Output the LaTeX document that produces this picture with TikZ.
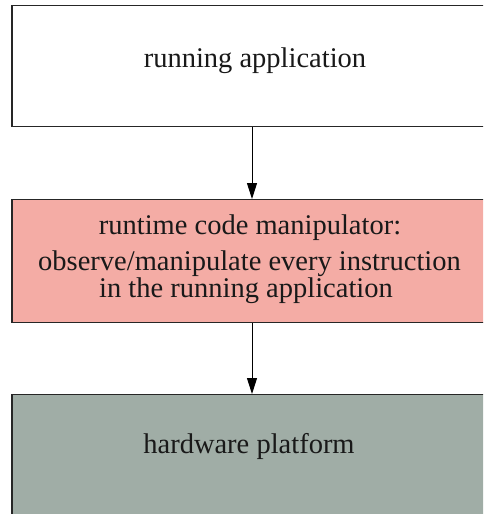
\documentclass[tikz,border=0pt]{standalone}
\usepackage{fontspec}
\setmainfont{Liberation Serif}
\usetikzlibrary{arrows.meta}
\definecolor{rcmpink}{RGB}{244,172,165}
\definecolor{hwgray}{RGB}{160,173,166}
\tikzset{
  layer/.style={draw=black!85, line width=1.4pt, minimum width=483pt, anchor=north},
  lbl/.style={anchor=base, inner sep=0pt, font=\fontsize{28.5}{28.5}\selectfont, text=black!90},
  flow/.style={line width=1pt, -{Triangle[length=16pt, width=10pt]}}
}
\begin{document}
\begin{tikzpicture}[x=1pt, y=1pt]
  \useasboundingbox (0,0) rectangle (483,-514);
  \clip (0,0) rectangle (483,-514);
  \fill[white] (0,0) rectangle (483,-514);

  % the three layers, top to bottom
  \node[layer, fill=white, minimum height=121pt] (app) at (253.5,-5) {};
  \node[layer, fill=rcmpink, minimum height=123pt] (rcm) at (253.5,-199) {};
  \node[layer, fill=hwgray, minimum height=130pt] (hw) at (253.5,-394) {};

  % layer captions
  \node[lbl] (apptxt) at (255,-67) {running application};
  \node[lbl] (rcmtxt1) at (250,-234) {runtime code manipulator:};
  \node[lbl] (rcmtxt2) at (249.5,-270) {observe/manipulate every instruction};
  \node[lbl] (rcmtxt3) at (246,-297) {in the running application};
  \node[lbl] (hwtxt) at (249,-453) {hardware platform};

  % control passes downward
  \draw[flow] (app.south -| 252,0) -- (rcm.north -| 252,0);
  \draw[flow] (rcm.south -| 252,0) -- (hw.north -| 252,0);
\end{tikzpicture}
\end{document}
